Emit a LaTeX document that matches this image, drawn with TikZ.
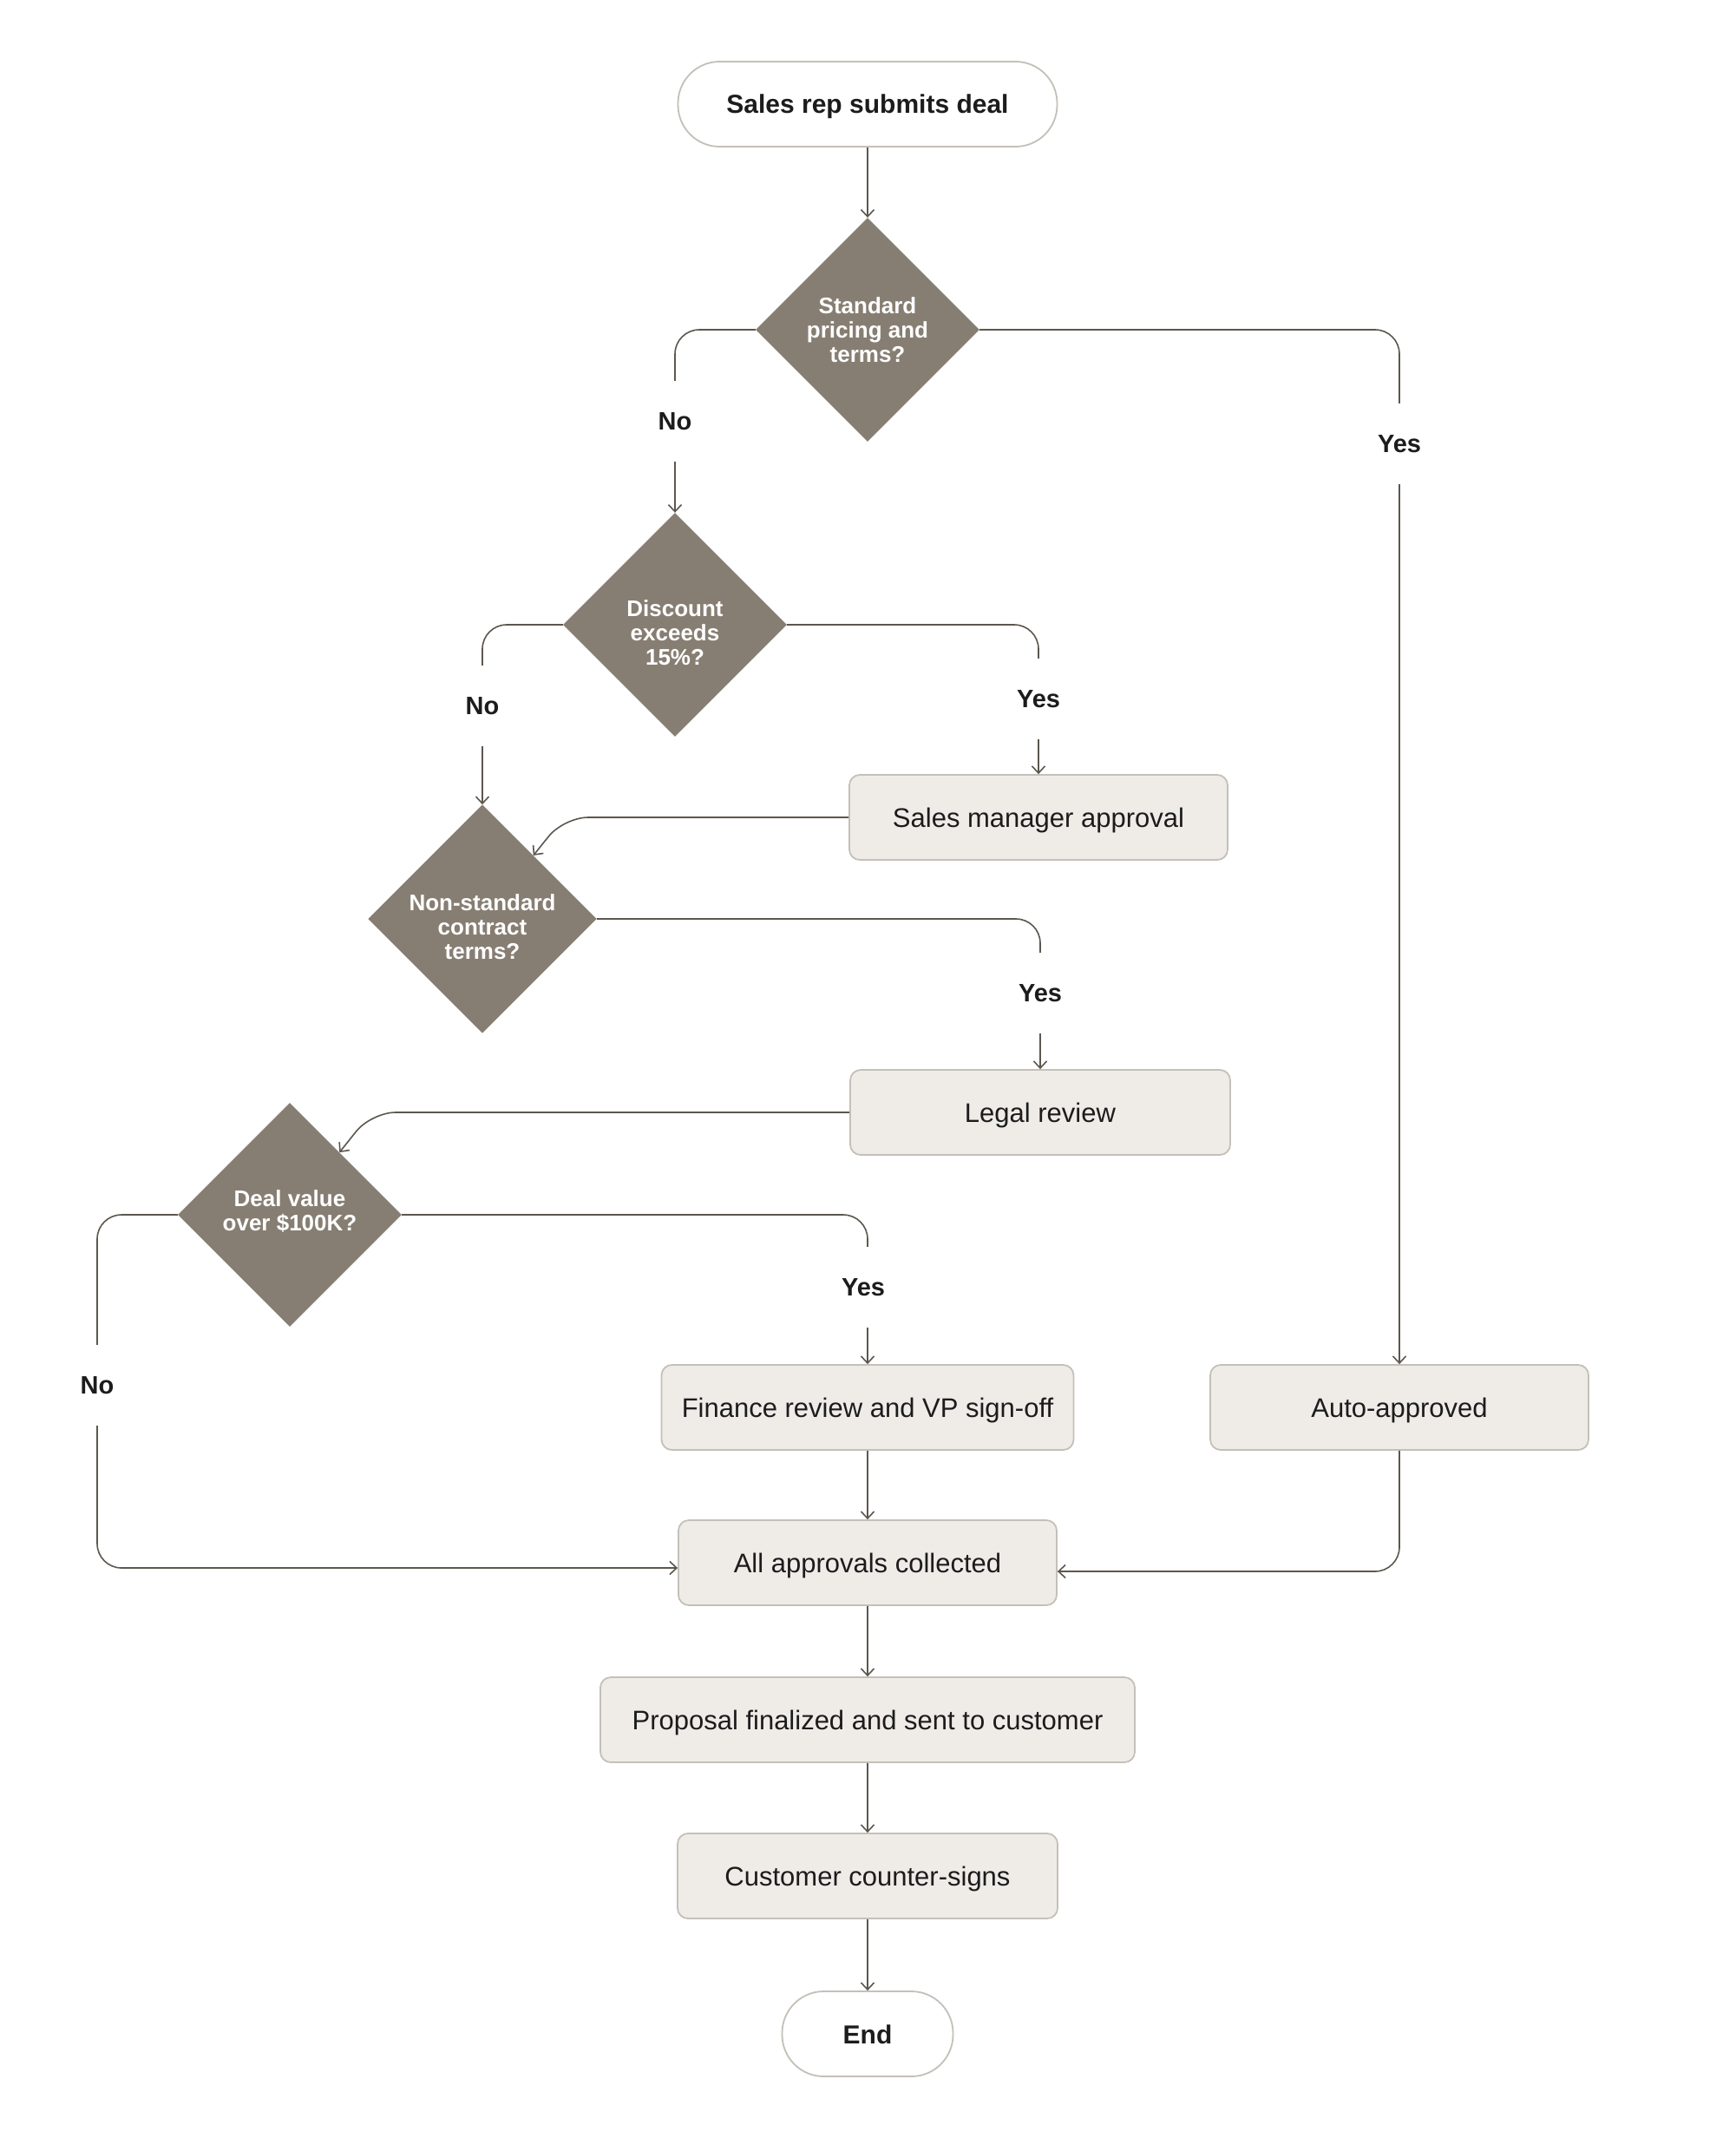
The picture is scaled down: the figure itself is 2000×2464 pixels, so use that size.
\documentclass[tikz,border=0pt]{standalone}
\usepackage{fontspec}
\setmainfont{Liberation Sans}
\usetikzlibrary{shapes.geometric,arrows.meta}
\definecolor{dfill}{HTML}{877E73}
\definecolor{bfill}{HTML}{EFECE8}
\definecolor{bdraw}{HTML}{C4C0B9}
\definecolor{lcol}{HTML}{5C574F}
\definecolor{tcol}{HTML}{1C1C1C}
\begin{document}
\begin{tikzpicture}[x=1pt,y=-1pt,
 proc/.style={rectangle, rounded corners=12pt, fill=bfill, draw=bdraw, line width=1.8pt, minimum height=98pt, text=tcol, font=\fontsize{31}{36}\selectfont, inner sep=0pt, text height=22pt, text depth=0pt},
 term/.style={rectangle, rounded corners=48pt, fill=white, draw=bdraw, line width=1.8pt, minimum height=98pt, text=tcol, font=\fontsize{30}{36}\selectfont\bfseries, inner sep=0pt, text height=22pt, text depth=0pt},
 dec/.style={diamond, fill=dfill, minimum width=258pt, minimum height=258pt, inner sep=0pt, text=white, align=center, font=\fontsize{26}{28}\selectfont\bfseries},
 conn/.style={draw=lcol, line width=1.6pt, -{Straight Barb[length=8pt,width=15pt]}, rounded corners=28pt},
 lab/.style={fill=white, text=tcol, font=\fontsize{29}{34}\selectfont\bfseries, text height=21pt, text depth=0pt, inner xsep=6pt, inner ysep=36pt}
]
\fill[white] (0,0) rectangle (2000,2464);
\useasboundingbox (0,0) rectangle (2000,2464);

% nodes
\node[term, minimum width=437pt] (start) at (1000,120) {Sales rep submits deal};
\node[dec] (d1) at (1000,380) {Standard\\pricing and\\terms?};
\node[dec] (d2) at (778,720) {\rule{0pt}{38pt}Discount\\exceeds\\15\%?};
\node[dec] (d3) at (556,1059) {\rule{0pt}{38pt}Non-standard\\contract\\terms?};
\node[dec] (d4) at (334,1400) {Deal value\\over \$100K?\rule[-10pt]{0pt}{10pt}};
\node[proc, minimum width=436pt] (sm) at (1197,942) {Sales manager approval};
\node[proc, minimum width=438pt] (legal) at (1199,1282) {Legal review};
\node[proc, minimum width=475pt] (fin) at (1000,1622) {Finance review and VP sign-off};
\node[proc, minimum width=436pt] (auto) at (1613,1622) {Auto-approved};
\node[proc, minimum width=436pt] (all) at (1000,1801) {All approvals collected};
\node[proc, minimum width=616pt] (prop) at (1000,1982) {Proposal finalized and sent to customer};
\node[proc, minimum width=438pt] (cust) at (1000,2162) {Customer counter-signs};
\node[term, minimum width=197pt] (end) at (1000,2344) {End};

\coordinate (k1) at (650,942);
\coordinate (k2) at (428,1282);
\coordinate (k3) at (112,1807);

% connectors
\draw[conn] (start) -- (d1);
\draw[conn] (d1.west) -| (d2.north);
\draw[conn] (d1.east) -| (auto.north);
\draw[conn] (d2.west) -| (d3.north);
\draw[conn] (d2.east) -| (sm.north);
\draw[conn] (sm.west) -- (k1) -- (d3);
\draw[conn] (d3.east) -| (legal.north);
\draw[conn] (legal.west) -- (k2) -- (d4);
\draw[conn] (d4.east) -| (fin.north);
\draw[conn] (d4.west) -| (k3) -- ([yshift=-6pt]all.west);
\draw[conn] (auto.south) |- ([yshift=-10pt]all.east);
\draw[conn] (fin) -- (all);
\draw[conn] (all) -- (prop);
\draw[conn] (prop) -- (cust);
\draw[conn] (cust) -- (end);

% labels
\node[lab] (yn1) at (778,485) {No};
\node[lab] (yy1) at (1613,511) {Yes};
\node[lab] (yn2) at (556,813) {No};
\node[lab] (yy2) at (1197,805) {Yes};
\node[lab] (yy3) at (1199,1144) {Yes};
\node[lab] (yy4) at (995,1483) {Yes};
\node[lab] (yn4) at (112,1596) {No};
\end{tikzpicture}
\end{document}
